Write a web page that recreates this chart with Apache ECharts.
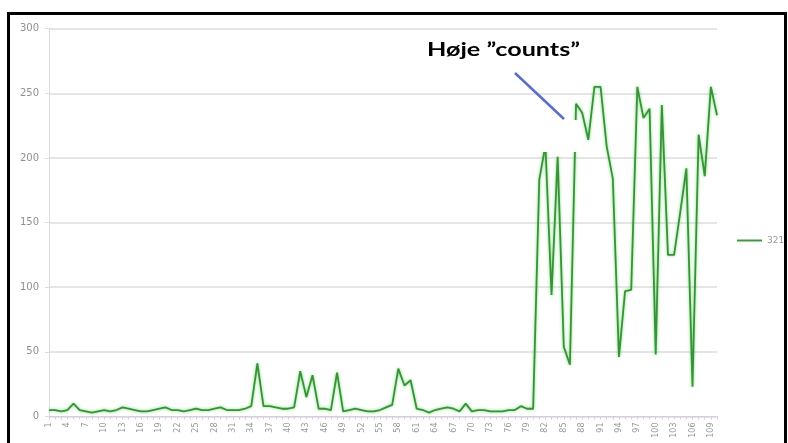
<!DOCTYPE html>
<html><head><meta charset="utf-8">
<script src="https://cdn.jsdelivr.net/npm/echarts@6/dist/echarts.min.js"></script>
<style>html,body{margin:0;padding:0;background:#fff}#c{width:788px;height:443px}</style>
</head><body><div id="c"></div>
<script>
const categories = [];
for (let i = 1; i <= 110; i++) categories.push(String(i));
const seriesName = "321-";
const values = [
 5,5,4,5,10,5,4,3,4,5,
 4,5,7,6,5,4,4,5,6,7,
 5,5,4,5,6,5,5,6,7,5,
 5,5,6,8,41,8,8,7,6,6,
 7,35,15,32,6,6,5,34,4,5,
 6,5,4,4,5,7,9,37,24,28,
 6,5,3,5,6,7,6,4,10,4,
 5,5,4,4,4,5,5,8,6,6,
 183,210,94,201,54,40,242,235,214,255,
 255,209,184,46,97,98,255,231,238,48,
 241,125,125,158,192,23,218,186,255,233
];
const yTicks = [0,50,100,150,200,250,300];
const annotationText = "Høje \u201dcounts\u201d";

const chart = echarts.init(document.getElementById('c'));
chart.setOption({
  backgroundColor: '#fff',
  animation: false,
  grid: {left: 49, right: 71, top: 28.7, bottom: 26.5},
  legend: {
    data: [seriesName], left: 737, top: 236, itemWidth: 25, itemHeight: 2, itemGap: 3, padding: 0,
    icon: 'rect', textStyle: {color: '#999', fontSize: 9, fontFamily: 'DejaVu Sans', overflow: 'none', width: 60, padding: [0,0,0,0]}
  },
  xAxis: {
    type: 'category', data: categories, boundaryGap: false,
    axisLine: {lineStyle: {color: '#d9cbe0', width: 1}},
    axisTick: {show: true, interval: 0, length: 3, lineStyle: {color: '#d9cbe0'}},
    axisLabel: {interval: 2, rotate: 90, color: '#999', fontSize: 8, margin: 6, fontFamily: 'DejaVu Sans'},
    splitLine: {show: false}
  },
  yAxis: {
    type: 'value', min: yTicks[0], max: yTicks[yTicks.length-1], interval: 50,
    axisLine: {show: true, lineStyle: {color: '#dcdcdc'}},
    axisTick: {show: true, length: 4, lineStyle: {color: '#dcdcdc'}},
    axisLabel: {color: '#8f8f8f', fontSize: 10, margin: 10, fontFamily: 'DejaVu Sans'},
    splitLine: {lineStyle: {color: '#dcdcdc', width: 1.5}}
  },
  series: [{
    name: seriesName, type: 'line', data: values, symbol: 'none',
    itemStyle: {color: '#3f9a3f'},
    lineStyle: {color: '#3c8f3c', width: 1.8, shadowColor: 'rgba(90,220,90,0.9)', shadowBlur: 3}
  }],
  graphic: [
    {type: 'rect', shape: {x: 448, y: 120, width: 132, height: 32}, style: {fill: '#fff'}, z: 100},
    {type: 'rect', shape: {x: 418, y: 34, width: 172, height: 34}, style: {fill: '#fff'}, z: 100},
    {type: 'line', shape: {x1: 515, y1: 73, x2: 564, y2: 119}, style: {stroke: '#5a6ec8', lineWidth: 2.5}, z: 101},
    {type: 'text', x: 427, y: 41, scaleX: 1.36, scaleY: 1,
     style: {text: annotationText, fill: '#000', font: 'bold 18.5px Lato, "Liberation Sans", sans-serif', textVerticalAlign: 'top'}, z: 102},
    {type: 'rect', shape: {x: 8.5, y: 13.5, width: 777, height: 440}, style: {fill: 'none', stroke: '#000', lineWidth: 3}, z: 200}
  ]
});
</script></body></html>
